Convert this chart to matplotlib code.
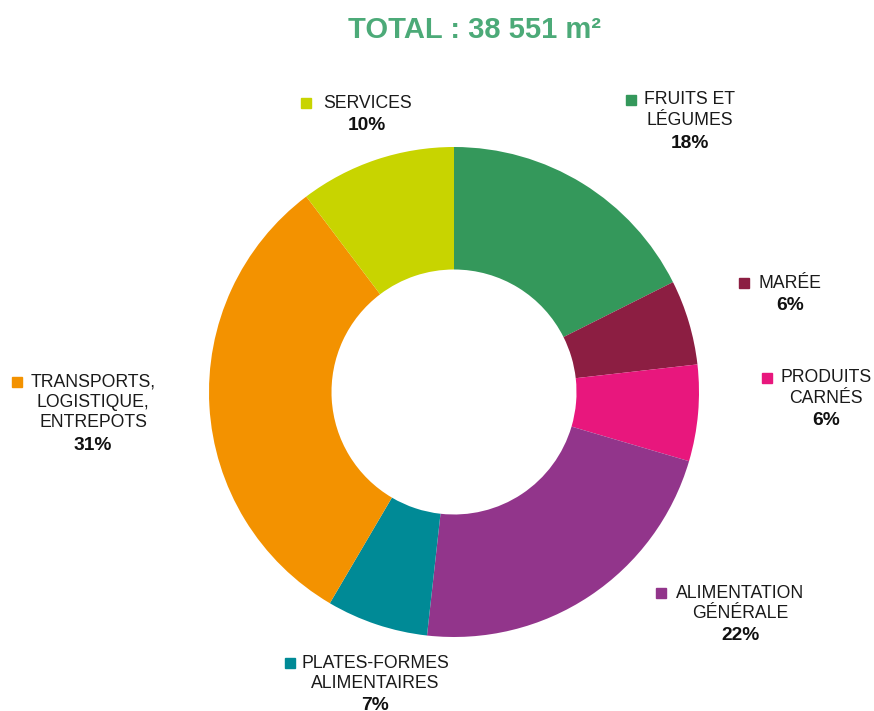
import matplotlib.pyplot as plt

plt.rcParams["font.family"] = ["Liberation Sans", "DejaVu Sans"]

# surfaces in m², clockwise from the top
categories = ["FRUITS ET\nLÉGUMES", "MARÉE", "PRODUITS\nCARNÉS", "ALIMENTATION\nGÉNÉRALE",
              "PLATES-FORMES\nALIMENTAIRES", "TRANSPORTS,\nLOGISTIQUE,\nENTREPOTS", "SERVICES"]
surfaces = [6785, 2160, 2450, 8558, 2583, 12044, 3971]
colors = ["#34985b", "#8c1e42", "#e8177d", "#92358b", "#008a96", "#f39200", "#c8d400"]
total = sum(surfaces)

W, H = 874, 711
fig = plt.figure(figsize=(W / 100, H / 100), dpi=100)

# donut: centre (454, 392) px, radius 245 px
cx, cy, r = 454, 392, 245
ax = fig.add_axes([(cx - r) / W, (H - cy - r) / H, 2 * r / W, 2 * r / H])
ax.pie(surfaces, colors=colors, startangle=90, counterclock=False,
       wedgeprops=dict(width=0.5, edgecolor="none"))
ax.set_xlim(-1, 1)
ax.set_ylim(-1, 1)
ax.set_aspect("equal")
ax.axis("off")

fig.text(474 / W, 1 - 30 / H, "TOTAL : 38 551 m²", ha="center", va="center",
         fontsize=21, fontweight="bold", color="#4caa78")

# label layout: (text centre x, first line y, square x) in px
label_pos = [(690, 100, 631), (790, 283, 744), (826, 378, 767), (740, 593, 661),
             (375, 663, 290), (93, 382, 17), (367, 103, 306)]

line_h = 20.5
for name, val, col, (tx, ty, sx) in zip(categories, surfaces, colors, label_pos):
    lines = name.split("\n")
    for i, line in enumerate(lines):
        fig.text(tx / W, 1 - (ty + i * line_h) / H, line, ha="center", va="center",
                 fontsize=12.7, color="#1a1a1a")
    pct = f"{round(val / total * 100)}%"
    fig.text(tx / W, 1 - (ty + len(lines) * line_h + 2) / H, pct, ha="center",
             va="center", fontsize=13.8, fontweight="bold", color="#111111")
    fig.patches.append(plt.Rectangle(((sx - 5) / W, 1 - (ty + 5) / H), 10 / W, 10 / H,
                                     transform=fig.transFigure, color=col))

fig.savefig("out.png", dpi=100)
